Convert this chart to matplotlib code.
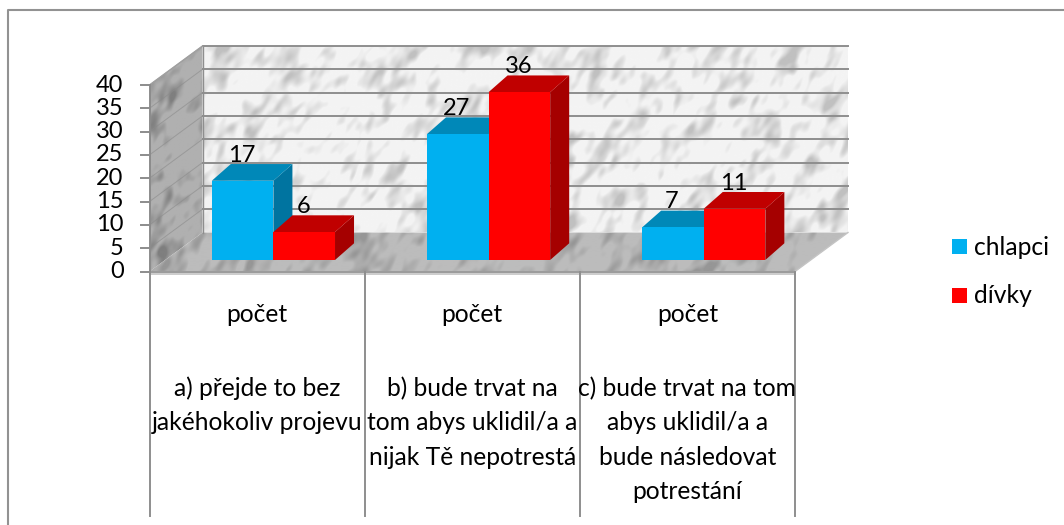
import numpy as np
import matplotlib
matplotlib.use("Agg")
import matplotlib.pyplot as plt
from matplotlib.patches import Polygon, Rectangle
from matplotlib.lines import Line2D

categories = ["a) přejde to bez\njakéhokoliv projevu",
              "b) bude trvat na\ntom abys uklidil/a a\nnijak Tě nepotrestá",
              "c) bude trvat na tom\nabys uklidil/a a\nbude následovat\npotrestání"]
group_label = "počet"
series_names = ["chlapci", "dívky"]
chlapci = [17, 27, 7]
divky = [6, 36, 11]
yticks = [0, 5, 10, 15, 20, 25, 30, 35, 40]

FRONT = ["#00B0F0", "#FF0000"]
TOP = ["#0088B8", "#C00000"]
SIDE = ["#0074A0", "#A50000"]
GRID = "#8e8e8e"

plt.rcParams["font.family"] = ["Lato", "DejaVu Sans"]
W, H = 1064, 525
fig = plt.figure(figsize=(W / 100, H / 100), dpi=100)
L, R, T, B = 149.5, 795.0, 85.0, 271.5
PX = (R - L) / 3
PY = (B - T) / 40
ax = fig.add_axes([0, 0, 1, 1])
ax.set_axis_off()
DX, DY = 53 / PX, 39 / PY           # wall depth in data units


def noise(seed, shape, sx, sy):
    rng = np.random.default_rng(seed)
    n = rng.normal(size=shape)
    fy = np.fft.fftfreq(shape[0])[:, None]
    fx = np.fft.fftfreq(shape[1])[None, :]
    a, c = fx + fy * 0.6, fy - fx * 0.6
    f = np.exp(-(a * sx) ** 2 - (c * sy) ** 2)
    m = np.fft.ifft2(np.fft.fft2(n) * f).real
    return m / m.std()


def marble(seed, shape, base, dark):
    m1 = noise(seed, shape, 9, 18)
    m2 = noise(seed + 1, shape, 22, 45)
    v = base - dark * np.clip(m1 + 0.9 * m2 + 0.1, 0, 3.5)
    return np.clip(v, 0, 255) / 255


def wall(seed, shape, base, dark, corners, z):
    xs, ys = zip(*corners)
    img = marble(seed, shape, base, dark)
    im = ax.imshow(img, cmap="gray", vmin=0, vmax=1, aspect="auto",
                   extent=(min(xs), max(xs), min(ys), max(ys)), zorder=z,
                   interpolation="bilinear")
    im.set_clip_path(Polygon(corners, closed=True, transform=ax.transData))


def line(xs, ys, color, lw, z=2, **kw):
    ax.add_line(Line2D(xs, ys, color=color, lw=lw, zorder=z, clip_on=False, **kw))


def poly(pts, color, z):
    ax.add_patch(Polygon(pts, color=color, lw=0, zorder=z, clip_on=False))


# walls and floor
wall(3, (190, 650), 244, 15, [(DX, DY), (3 + DX, DY), (3 + DX, 40 + DY), (DX, 40 + DY)], 1)
wall(7, (230, 60), 176, 14, [(0, 0), (DX, DY), (DX, 40 + DY), (0, 40)], 1)
wall(11, (40, 700), 188, 11, [(0, 0), (3, 0), (3 + DX, DY), (DX, DY)], 1)

# gridlines
for v in yticks[1:]:
    line([DX, 3 + DX], [v + DY, v + DY], GRID, 1.4)
    line([0, DX], [v, v + DY], "#8a8a8a", 0.7, alpha=0.6)
line([DX, DX], [DY, 40 + DY], GRID, 1.0)
line([0, DX], [40, 40 + DY], "#a0a0a0", 1.0)

# axes
line([0, 0], [0, 40], "#8c8c8c", 1.4)
line([0, 3], [0, 0], "#9a9a9a", 1.4)
line([0, 3], [-0.5, -0.5], "#c4c4c4", 1.2)
line([3, 3 + DX], [0, DY], "#c4c4c4", 1.0)
tick_len = 9 / PX
for v in yticks:
    line([-tick_len, 0], [v, v], "#8c8c8c", 1.4)
    ax.text(-26 / PX, v, str(v), ha="right", va="center", fontsize=17, color="black")

# separators below the axis
sep_bottom = -(516 - B) / PY
for i in range(4):
    line([i, i], [0, sep_bottom], "#8e8e8e", 1.4)

# bars
BAR_W = 61.6 / PX
BAR_D = 0.295                        # front face position on the depth axis
BDX, BDY = 19 / PX, 16.7 / PY        # bar depth
x0 = 0.5 + BAR_D * DX + 0.7 / PX
y0 = BAR_D * DY
for c in range(3):
    for s, vals in enumerate([chlapci, divky]):
        left = c + x0 - BAR_W + s * BAR_W
        top = y0 + vals[c]
        z = 3 + s
        poly([(left + BAR_W, y0), (left + BAR_W + BDX, y0 + BDY),
              (left + BAR_W + BDX, top + BDY), (left + BAR_W, top)], SIDE[s], z)
        poly([(left, top), (left + BDX, top + BDY),
              (left + BAR_W + BDX, top + BDY), (left + BAR_W, top)], TOP[s], z)
        ax.bar(left, vals[c], BAR_W, bottom=y0, align="edge", color=FRONT[s], lw=0, zorder=z)
        ax.text(left + BAR_W / 2 - 1 / PX, top + BDY + 2.5 / PY, str(vals[c]), ha="center",
                va="baseline", fontsize=17, color="black", zorder=6)

# category labels
for c, lab in enumerate(categories):
    ax.text(c + 0.5, -(315 - B) / PY, group_label, ha="center", va="center", fontsize=17.7)
    ax.text(c + 0.5, -(376.5 - B) / PY, lab, ha="center", va="top", fontsize=17.7,
            linespacing=1.6)

ax.set_xlim(-L / PX, (W - L) / PX)
ax.set_ylim((B - H) / PY, B / PY)

# legend
for name, col, yp, yb in zip(series_names, FRONT, [246.5, 295.5], [255, 303]):
    fig.add_artist(Rectangle((952 / W, 1 - (yp + 7.5) / H), 15 / W, 15 / H, color=col, lw=0,
                             transform=fig.transFigure))
    fig.text(974 / W, 1 - yb / H, name, ha="left", va="baseline", fontsize=17.7)

# chart frame
fig.add_artist(Line2D([7.5 / W, 7.5 / W, 1], [0, 1 - 9.5 / H, 1 - 9.5 / H], color="#929292", lw=1.5))
fig.savefig("out.png", dpi=100)
